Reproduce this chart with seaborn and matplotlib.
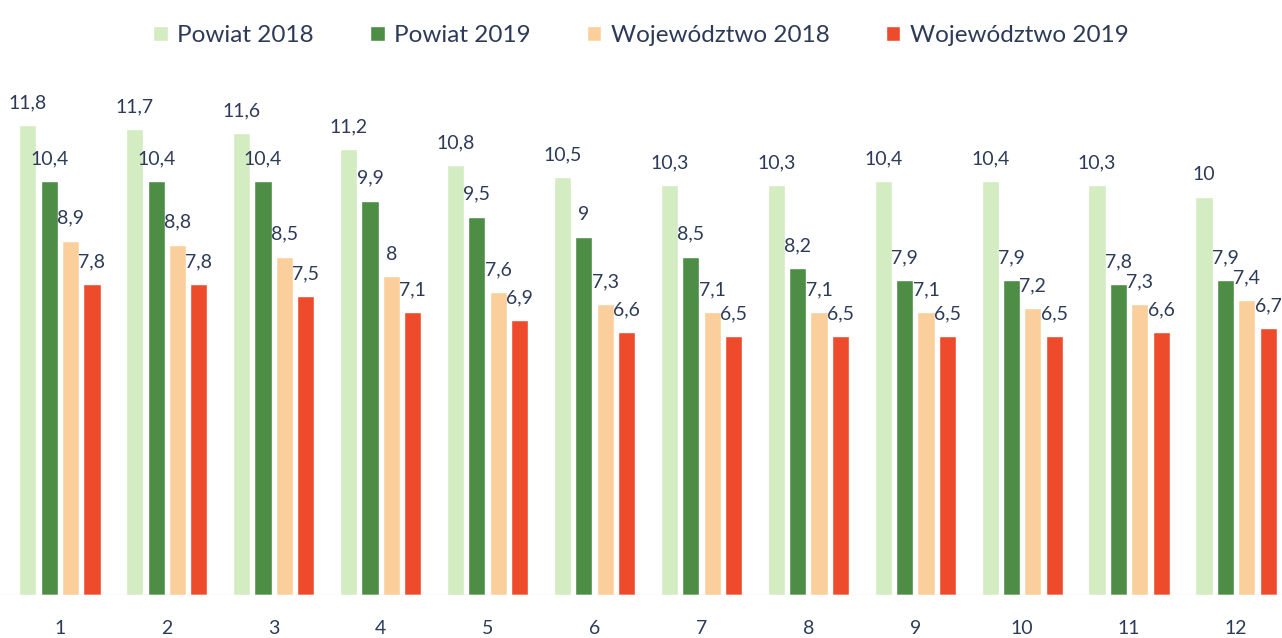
import pandas as pd
import matplotlib.pyplot as plt
import seaborn as sns

# Dane
miesiace = [str(i) for i in range(1, 13)]
powiat_2018 = [11.8, 11.7, 11.6, 11.2, 10.8, 10.5, 10.3, 10.3, 10.4, 10.4, 10.3, 10.0]
powiat_2019 = [10.4, 10.4, 10.4, 9.9, 9.5, 9.0, 8.5, 8.2, 7.9, 7.9, 7.8, 7.9]
woj_2018 = [8.9, 8.8, 8.5, 8.0, 7.6, 7.3, 7.1, 7.1, 7.1, 7.2, 7.3, 7.4]
woj_2019 = [7.8, 7.8, 7.5, 7.1, 6.9, 6.6, 6.5, 6.5, 6.5, 6.5, 6.6, 6.7]

serie = {
    'Powiat 2018': powiat_2018,
    'Powiat 2019': powiat_2019,
    'Województwo 2018': woj_2018,
    'Województwo 2019': woj_2019,
}
kolory = ['#d3ecc2', '#4e8d45', '#fbcf9b', '#ee4a2c']
kolor_tekstu = '#2d3b58'

df = pd.DataFrame([
    {'miesiac': m, 'seria': nazwa, 'wartosc': v}
    for nazwa, wartosci in serie.items()
    for m, v in zip(miesiace, wartosci)
])

sns.set_theme(style="white")
plt.rcParams['font.family'] = ['Lato', 'DejaVu Sans']

fig = plt.figure(figsize=(12.82, 6.38), dpi=100)
ax = fig.add_axes([0.0, 0.067, 1.0, 0.812])

sns.barplot(data=df, x='miesiac', y='wartosc', hue='seria', palette=kolory,
            saturation=1, width=0.8, gap=0.2, ax=ax, legend=True)

for cont in ax.containers:
    etykiety = [f"{v:g}".replace('.', ',') for v in cont.datavalues]
    ax.bar_label(cont, labels=etykiety, padding=10, fontsize=14, color=kolor_tekstu)

ax.set_xlim(-0.56, 11.43)
ax.set_ylim(0, 13)
ax.set_xlabel('')
ax.set_ylabel('')
ax.set_yticks([])
ax.tick_params(axis='x', length=0, pad=18, labelsize=14, labelcolor=kolor_tekstu)
for s in ax.spines.values():
    s.set_visible(False)
ax.axhline(0, color='#e6e6e6', lw=1)

h, l = ax.get_legend_handles_labels()
ax.legend_.remove()
fig.legend(h, l, loc='upper center', bbox_to_anchor=(0.5, 0.995), ncol=4,
           frameon=False, fontsize=17.5, handlelength=0.6, handleheight=0.6,
           columnspacing=2.3, handletextpad=0.4, labelcolor=kolor_tekstu)

plt.savefig('out.png', dpi=100)
